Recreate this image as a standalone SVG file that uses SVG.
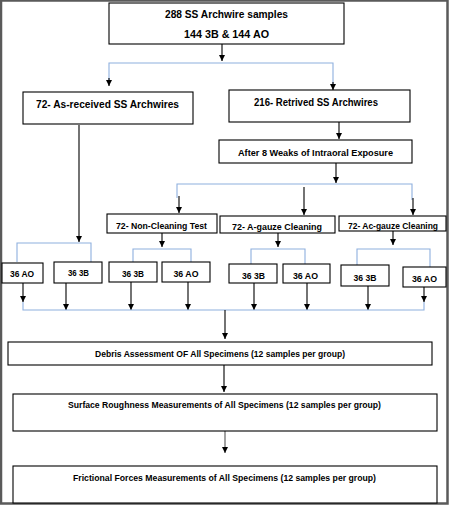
<svg xmlns="http://www.w3.org/2000/svg" width="450" height="505" viewBox="0 0 450 505">
<style>
.box{fill:#fff;stroke:#000;stroke-width:1.1}
.t{font-family:"Liberation Sans",Arial,sans-serif;font-weight:bold;fill:#000;text-anchor:middle}
.h{font-size:11px}
.m{font-size:9.5px}
.s{font-size:9px}
.b{font-size:9px}
.k{fill:none;stroke:#000;stroke-width:1.1}
.bl{fill:none;stroke:#8eb0de;stroke-width:1.1}
</style>
<defs>
<marker id="a" markerUnits="userSpaceOnUse" markerWidth="6" markerHeight="7" refX="6" refY="3" orient="auto" viewBox="0 0 6 6">
<path d="M0,0 L6,3 L0,6 Z" fill="#000"/>
</marker>
</defs>
<rect x="0" y="0" width="450" height="505" fill="#fff"/>
<rect x="1" y="0.5" width="446.5" height="503" fill="none" stroke="#5a5a5a" stroke-width="2.5"/>
<g id="connectors">
<path class="k" d="M222,44 V61" marker-end="url(#a)"/>
<path class="bl" d="M222,63 H109 V80"/>
<path class="bl" d="M222,63 H333 V84"/>
<path class="k" d="M109,78 V86" marker-end="url(#a)"/>
<path class="k" d="M333,82 V90" marker-end="url(#a)"/>
<path class="k" d="M79,125 V242" marker-end="url(#a)"/>
<path class="k" d="M339,122 V139" marker-end="url(#a)"/>
<path class="k" d="M336,163 V183" marker-end="url(#a)"/>
<path class="bl" d="M177,198 V184 H412 V200"/>
<path class="k" d="M179,196 V213" marker-end="url(#a)"/>
<path class="k" d="M304,187 V215" marker-end="url(#a)"/>
<path class="k" d="M413,198 V215" marker-end="url(#a)"/>
<path class="k" d="M162,233 V247" marker-end="url(#a)"/>
<path class="k" d="M278,233 V247" marker-end="url(#a)"/>
<path class="k" d="M393,231 V245" marker-end="url(#a)"/>
<path class="bl" d="M17,262 V243 H91 V262"/>
<path class="bl" d="M133,262 V249 H191 V262"/>
<path class="bl" d="M251,264 V249 H305 V264"/>
<path class="bl" d="M357,265 V249 H430 V267"/>
<path class="k" d="M23,283 V302" marker-end="url(#a)"/>
<path class="k" d="M66,283 V310" marker-end="url(#a)"/>
<path class="k" d="M131,282 V310" marker-end="url(#a)"/>
<path class="k" d="M188,282 V310" marker-end="url(#a)"/>
<path class="k" d="M254,283 V310" marker-end="url(#a)"/>
<path class="k" d="M307,283 V310" marker-end="url(#a)"/>
<path class="k" d="M368,286 V310" marker-end="url(#a)"/>
<path class="k" d="M424,287 V302" marker-end="url(#a)"/>
<path class="bl" d="M23,302 V310 H424 V302"/>
<path class="k" d="M225,310 V339" marker-end="url(#a)"/>
<path class="k" d="M224,365 V392" marker-end="url(#a)"/>
<path class="k" d="M225,426 V453" marker-end="url(#a)" style="stroke:#555"/>
</g>
<g id="n-top"><rect class="box" x="109" y="3" width="235" height="41"/>
<text class="t h" x="226.5" y="18" textLength="123" lengthAdjust="spacingAndGlyphs">288 SS Archwire samples</text>
<text class="t h" x="226.5" y="38" textLength="85" lengthAdjust="spacingAndGlyphs">144 3B &amp; 144 AO</text></g>
<g id="n-asrec"><rect class="box" x="23" y="92" width="170" height="32"/>
<text class="t h" x="107.5" y="108" textLength="143" lengthAdjust="spacingAndGlyphs">72- As-received SS Archwires</text></g>
<g id="n-retr"><rect class="box" x="229" y="90" width="181" height="32"/>
<text class="t h" x="316" y="106" textLength="124" lengthAdjust="spacingAndGlyphs">216- Retrived SS Archwires</text></g>
<g id="n-after"><rect class="box" x="219" y="140" width="193" height="23"/>
<text class="t m" x="315.5" y="155.5" textLength="155" lengthAdjust="spacingAndGlyphs">After 8 Weaks of Intraoral Exposure</text></g>
<g id="n-noncl"><rect class="box" x="107" y="214" width="110" height="19"/>
<text class="t m" x="161.5" y="228.5" textLength="91" lengthAdjust="spacingAndGlyphs">72- Non-Cleaning Test</text></g>
<g id="n-agauze"><rect class="box" x="220" y="216" width="115" height="17"/>
<text class="t m" x="277" y="229.5" textLength="90" lengthAdjust="spacingAndGlyphs">72- A-gauze Cleaning</text></g>
<g id="n-acgauze"><rect class="box" x="339" y="216" width="107" height="15"/>
<text class="t m" x="393" y="229" textLength="90" lengthAdjust="spacingAndGlyphs">72- Ac-gauze Cleaning</text></g>
<g id="n-b1"><rect class="box" x="2" y="263" width="41" height="20"/>
<text class="t s" x="22" y="276.5" textLength="24" lengthAdjust="spacingAndGlyphs">36 AO</text></g>
<g id="n-b2"><rect class="box" x="54" y="262" width="48" height="21"/>
<text class="t s" x="78.5" y="275.5" textLength="21" lengthAdjust="spacingAndGlyphs">36 3B</text></g>
<g id="n-b3"><rect class="box" x="109" y="262" width="48" height="20"/>
<text class="t s" x="133" y="276.5" textLength="22" lengthAdjust="spacingAndGlyphs">36 3B</text></g>
<g id="n-b4"><rect class="box" x="162" y="262" width="48" height="20"/>
<text class="t s" x="186" y="276.5" textLength="25" lengthAdjust="spacingAndGlyphs">36 AO</text></g>
<g id="n-b5"><rect class="box" x="229" y="264" width="48" height="19"/>
<text class="t s" x="253.5" y="279" textLength="23" lengthAdjust="spacingAndGlyphs">36 3B</text></g>
<g id="n-b6"><rect class="box" x="283" y="264" width="47" height="19"/>
<text class="t s" x="305.5" y="279" textLength="25" lengthAdjust="spacingAndGlyphs">36 AO</text></g>
<g id="n-b7"><rect class="box" x="341" y="265" width="48" height="21"/>
<text class="t s" x="365" y="280.5" textLength="23" lengthAdjust="spacingAndGlyphs">36 3B</text></g>
<g id="n-b8"><rect class="box" x="403" y="267" width="43" height="20"/>
<text class="t s" x="424.5" y="281.5" textLength="25" lengthAdjust="spacingAndGlyphs">36 AO</text></g>
<g id="n-debris"><rect class="box" x="8" y="342" width="424" height="23"/>
<text class="t b" x="220" y="356.5" textLength="250" lengthAdjust="spacingAndGlyphs">Debris Assessment OF All Specimens (12 samples per group)</text></g>
<g id="n-surface"><rect class="box" x="13" y="394" width="424" height="37"/>
<text class="t b" x="224.5" y="407.5" textLength="313" lengthAdjust="spacingAndGlyphs">Surface Roughness Measurements of All Specimens (12 samples per group)</text></g>
<g id="n-fric"><rect class="box" x="13" y="466" width="424" height="37"/>
<text class="t b" x="224.5" y="480.5" textLength="303" lengthAdjust="spacingAndGlyphs">Frictional Forces Measurements of All Specimens (12 samples per group)</text></g>
</svg>
